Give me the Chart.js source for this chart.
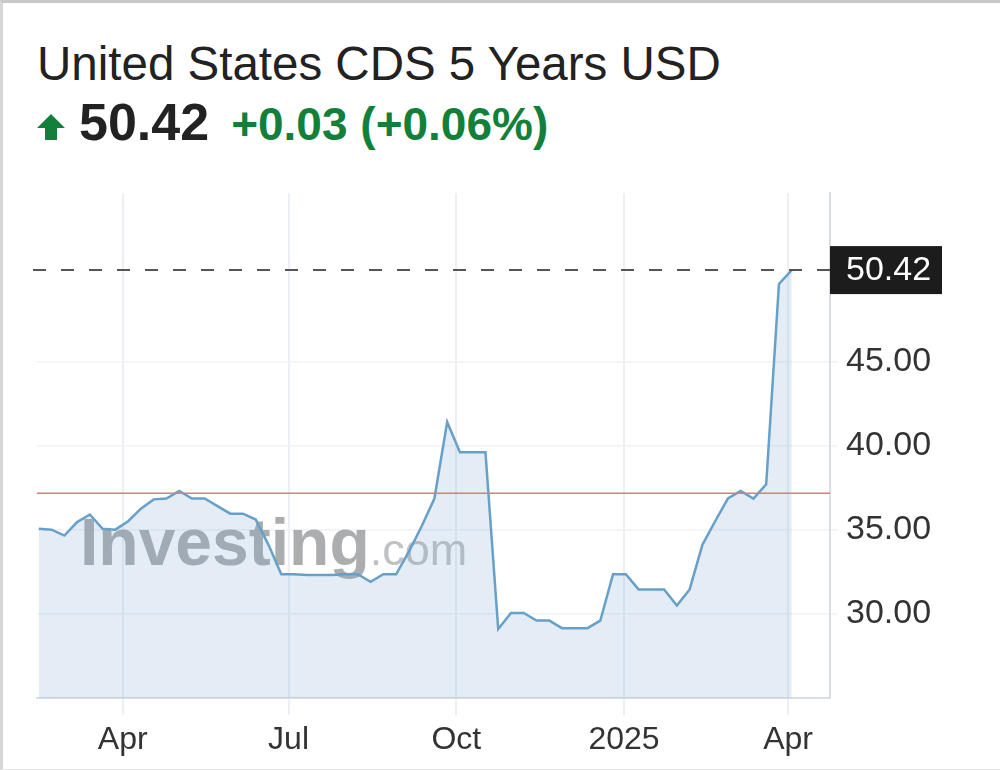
<html>
<head>
    <script src="https://cdn.jsdelivr.net/npm/chart.js"></script>
    <style>
        body { margin: 0; width: 1000px; height: 770px; background: #fff; overflow: hidden;
               font-family: "Liberation Sans", Arial, sans-serif; }
        #frame { position: absolute; left: 0; top: 0; width: 997px; height: 766px;
                 border-top: 3px solid #c8c8c8; border-left: 3px solid #d6d6d6; border-bottom: 1px solid #e2e2e2; }
        #title { position: absolute; left: 37px; top: 40px; font-size: 47.5px; line-height: 48px; color: #222; }
        #quote { position: absolute; left: 37px; top: 96px; display: flex; align-items: baseline; line-height: 52px; }
        #last { font-size: 52px; font-weight: bold; color: #222; margin-left: 14px; }
        #chg { font-size: 46px; font-weight: bold; color: #12803a; margin-left: 22px; }
        canvas { position: absolute; left: 0; top: 0; }
    </style>
</head>
<body>
    <div id="frame"></div>
    <div id="title">United States CDS 5 Years USD</div>
    <div id="quote">
        <svg width="28" height="26" viewBox="0 0 28 26"><polygon points="14,0 28,14 20,14 20,26 8,26 8,14 0,14" fill="#12803a"/></svg>
        <span id="last">50.42</span>
        <span id="chg">+0.03 (+0.06%)</span>
    </div>
    <canvas id="chart_id" width="1000" height="770"></canvas>
    <script>
        // 주간 데이터
        const dates = [
            '2024-02-15', '2024-02-22', '2024-02-29', '2024-03-07', '2024-03-14', '2024-03-21', '2024-03-28',
            '2024-04-04', '2024-04-11', '2024-04-18', '2024-04-25', '2024-05-02', '2024-05-09', '2024-05-16',
            '2024-05-23', '2024-05-30', '2024-06-06', '2024-06-13', '2024-06-20', '2024-06-27', '2024-07-04',
            '2024-07-11', '2024-07-18', '2024-07-25', '2024-08-01', '2024-08-08', '2024-08-15', '2024-08-22',
            '2024-08-29', '2024-09-05', '2024-09-12', '2024-09-19', '2024-09-26', '2024-10-03', '2024-10-10',
            '2024-10-17', '2024-10-24', '2024-10-31', '2024-11-07', '2024-11-14', '2024-11-21', '2024-11-28',
            '2024-12-05', '2024-12-12', '2024-12-19', '2024-12-26', '2025-01-02', '2025-01-09', '2025-01-16',
            '2025-01-23', '2025-01-30', '2025-02-06', '2025-02-13', '2025-02-20', '2025-02-27', '2025-03-06',
            '2025-03-13', '2025-03-20', '2025-03-27', '2025-04-03'
        ];
        const values = [
            35.05, 35.0, 34.65, 35.45, 35.9, 35.05, 35.0,
            35.5, 36.25, 36.8, 36.85, 37.3, 36.85, 36.85,
            36.4, 35.95, 35.95, 35.6, 34.1, 32.35, 32.35,
            32.3, 32.3, 32.3, 32.35, 32.35, 31.9, 32.35,
            32.35, 33.7, 35.2, 36.85, 41.4, 39.6, 39.6,
            39.6, 29.1, 30.05, 30.05, 29.6, 29.6, 29.15,
            29.15, 29.15, 29.6, 32.35, 32.35, 31.45, 31.45,
            31.45, 30.5, 31.45, 34.1, 35.5, 36.85, 37.3,
            36.85, 37.7, 49.6, 50.42
        ];
        const xTickDates = ['2024-04-01', '2024-07-01', '2024-10-01', '2025-01-01', '2025-04-01'];
        const xTickLabels = ['Apr', 'Jul', 'Oct', '2025', 'Apr'];
        const yTickValues = [30, 35, 40, 45];
        const xRange = ['2024-02-14', '2025-04-24'];
        const yRange = [25, 55];
        const lastPrice = 50.42;
        const refLevel = 37.16;

        const toDay = s => {
            const [y, m, d] = s.split('-').map(Number);
            return Date.UTC(y, m - 1, d) / 86400000;
        };

        // 워터마크 + 기준선 + 현재가 라벨
        const overlay = {
            id: 'overlay',
            beforeDatasetsDraw(chart) {
                const { ctx, chartArea } = chart;
                ctx.save();
                ctx.textBaseline = 'alphabetic';
                ctx.font = 'bold 66px "Liberation Sans", Arial';
                ctx.fillStyle = 'rgba(150,152,155,0.8)';
                ctx.fillText('Investing', chartArea.left + 43, 565);
                const w = ctx.measureText('Investing').width;
                ctx.font = '45px "Liberation Sans", Arial';
                ctx.fillStyle = 'rgba(170,172,175,0.75)';
                ctx.fillText('.com', chartArea.left + 43 + w, 565);
                ctx.restore();
            },
            afterDatasetsDraw(chart) {
                const { ctx, chartArea, scales } = chart;
                const yRef = scales.y.getPixelForValue(refLevel);
                const yLast = scales.y.getPixelForValue(lastPrice);
                ctx.save();
                ctx.strokeStyle = '#e07a7a';
                ctx.lineWidth = 1.5;
                ctx.beginPath();
                ctx.moveTo(chartArea.left, yRef);
                ctx.lineTo(chartArea.right, yRef);
                ctx.stroke();

                ctx.strokeStyle = '#555';
                ctx.lineWidth = 2;
                ctx.setLineDash([13, 15]);
                ctx.beginPath();
                ctx.moveTo(chartArea.left - 4, yLast);
                ctx.lineTo(chartArea.right, yLast);
                ctx.stroke();
                ctx.setLineDash([]);

                ctx.fillStyle = '#1c1c1c';
                ctx.fillRect(chartArea.right, yLast - 24, 112, 48);
                ctx.fillStyle = '#fff';
                ctx.font = '34px "Liberation Sans", Arial';
                ctx.textBaseline = 'middle';
                ctx.fillText(lastPrice.toFixed(2), chartArea.right + 16, yLast + 1);
                ctx.restore();
            }
        };

        new Chart(document.getElementById('chart_id'), {
            type: 'line',
            data: {
                datasets: [{
                    data: dates.map((d, i) => ({ x: toDay(d), y: values[i] })),
                    borderColor: '#67a0c8',
                    borderWidth: 2.5,
                    backgroundColor: 'rgba(120,165,205,0.2)',
                    fill: 'start',
                    pointRadius: 0,
                    tension: 0
                }]
            },
            options: {
                responsive: false,
                animation: false,
                layout: { padding: { left: 37, top: 193, right: 0, bottom: 0 } },
                plugins: { legend: { display: false }, tooltip: { enabled: false } },
                scales: {
                    x: {
                        type: 'linear',
                        min: toDay(xRange[0]),
                        max: toDay(xRange[1]),
                        afterBuildTicks: s => { s.ticks = xTickDates.map(d => ({ value: toDay(d) })); },
                        afterFit: s => { s.height = 72; },
                        ticks: {
                            autoSkip: false, maxRotation: 0, padding: 6,
                            color: '#333', font: { size: 32, family: '"Liberation Sans", Arial' },
                            callback: (v, i) => xTickLabels[i]
                        },
                        grid: { color: '#eceff3', tickLength: 17, lineWidth: 2 },
                        border: { color: '#d9dee4', width: 2 }
                    },
                    y: {
                        position: 'right',
                        min: yRange[0],
                        max: yRange[1],
                        afterBuildTicks: s => { s.ticks = yTickValues.map(v => ({ value: v })); },
                        afterFit: s => { s.width = 170; },
                        ticks: {
                            padding: 8,
                            color: '#333', font: { size: 34, family: '"Liberation Sans", Arial' },
                            callback: v => v.toFixed(2)
                        },
                        grid: { color: '#f0f2f5', tickLength: 8, lineWidth: 1.5 },
                        border: { color: '#d9dee4', width: 2 }
                    }
                }
            },
            plugins: [overlay]
        });
    </script>
</body>
</html>
